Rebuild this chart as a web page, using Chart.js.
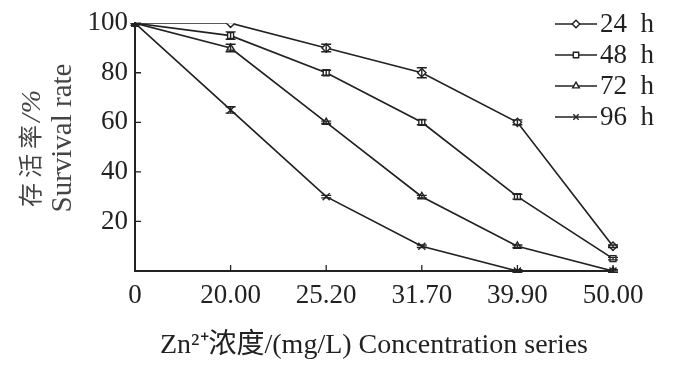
<!DOCTYPE html>
<html>
<head>
<meta charset="utf-8">
<script src="https://cdn.jsdelivr.net/npm/chart.js@4.4.1/dist/chart.umd.min.js"></script>
<style>
  html, body { margin:0; padding:0; background:#fff; }
  #wrap { width:700px; height:372px; position:relative; }
</style>
</head>
<body>
<div id="wrap"><canvas id="c" width="700" height="372"></canvas></div>
<script>
// data
const concentrations = ['0', '20.00', '25.20', '31.70', '39.90', '50.00'];
const seriesNames = ['24 h', '48 h', '72 h', '96 h'];
const survival24 = [100, 100, 90, 80, 60, 10];
const survival48 = [100, 95, 80, 60, 30, 5];
const survival72 = [100, 90, 60, 30, 10, 0];
const survival96 = [100, 65, 30, 10, 0, 0];
const err24 = [0, 0, 1.5, 2, 1, 0.5];
const err48 = [0, 1.5, 1, 1, 1, 0.5];
const err72 = [0, 1.5, 0.5, 0.5, 0.5, 0.5];
const err96 = [0, 1.3, 0.5, 0.5, 0.5, 0.5];
const yTicks = [20, 40, 60, 80, 100];
const yTitle = ['存活率', '/%', 'Survival rate'];
const xTitle = 'Zn\u00b2\u207a浓度/(mg/L) Concentration series';

const SERIF = "'Liberation Serif', 'Noto Sans CJK SC', serif";
const INK = '#222';
const markers = ['rectRot', 'rect', 'triangle', 'crossRot'];

function mkSet(label, data, errs, style) {
  return {
    label, data, errs,
    borderColor: INK, borderWidth: 1.7,
    pointStyle: style, pointRadius: style === 'crossRot' ? 5 : 4.2,
    pointBackgroundColor: data.map((v, i) => i === 0 ? INK : '#fff'),
    pointBorderColor: INK, pointBorderWidth: 1.4,
    tension: 0, fill: false
  };
}

// error bars, inward ticks, y title and the legend inside the plot
const extras = {
  id: 'extras',
  afterDatasetsDraw(chart) {
    const { ctx, scales: { x, y } } = chart;
    ctx.save();
    ctx.strokeStyle = INK; ctx.lineWidth = 1.4;
    chart.data.datasets.forEach(ds => {
      ds.data.forEach((v, i) => {
        const e = ds.errs[i]; if (!e) return;
        const px = x.getPixelForValue(i);
        const top = y.getPixelForValue(v + e), bot = y.getPixelForValue(v - e);
        ctx.beginPath();
        ctx.moveTo(px, top); ctx.lineTo(px, bot);
        ctx.moveTo(px - 5, top); ctx.lineTo(px + 5, top);
        ctx.moveTo(px - 5, bot); ctx.lineTo(px + 5, bot);
        ctx.stroke();
      });
    });
    // inward tick marks
    ctx.lineWidth = 1.3;
    ctx.beginPath();
    concentrations.forEach((c, i) => {
      if (i === 0) return;
      const px = x.getPixelForValue(i);
      ctx.moveTo(px, x.top); ctx.lineTo(px, x.top - 6);
    });
    yTicks.forEach(t => {
      const py = y.getPixelForValue(t);
      ctx.moveTo(y.right, py); ctx.lineTo(y.right + 6, py);
    });
    ctx.stroke();
    // y axis title, two rotated lines
    ctx.save();
    ctx.translate(0, 207);
    ctx.rotate(-Math.PI / 2);
    ctx.fillStyle = '#444';
    ctx.textAlign = 'left'; ctx.textBaseline = 'middle';
    ctx.font = '24px ' + SERIF;
    ctx.letterSpacing = '5px';
    ctx.fillText(yTitle[0], 0, 33);
    const w = ctx.measureText(yTitle[0]).width;
    ctx.letterSpacing = '1px';
    ctx.font = 'italic 28px ' + SERIF;
    ctx.fillText(yTitle[1], w - 2, 33);
    ctx.letterSpacing = '0px';
    ctx.font = '29px ' + SERIF;
    ctx.textAlign = 'center';
    ctx.fillText(yTitle[2], 69, 63);
    ctx.restore();
    // legend
    chart.data.datasets.forEach((ds, i) => {
      const ly = 24 + i * 31;
      ctx.strokeStyle = INK; ctx.lineWidth = 1.7;
      ctx.beginPath(); ctx.moveTo(555, ly); ctx.lineTo(597, ly); ctx.stroke();
      ctx.fillStyle = '#fff'; ctx.lineWidth = 1.4;
      Chart.helpers.drawPoint(ctx, { pointStyle: ds.pointStyle, rotation: 0, radius: 3.8, borderWidth: 1.4 }, 576, ly);
      ctx.fillStyle = INK;
      ctx.font = '27px ' + SERIF;
      ctx.textBaseline = 'middle'; ctx.textAlign = 'left';
      ctx.fillText(ds.label.replace(' ', '\u2002'), 600, ly + 1);
    });
    ctx.restore();
  }
};

new Chart(document.getElementById('c'), {
  type: 'line',
  data: {
    labels: concentrations,
    datasets: [
      mkSet(seriesNames[0], survival24, err24, markers[0]),
      mkSet(seriesNames[1], survival48, err48, markers[1]),
      mkSet(seriesNames[2], survival72, err72, markers[2]),
      mkSet(seriesNames[3], survival96, err96, markers[3])
    ]
  },
  options: {
    responsive: false, animation: false,
    layout: { padding: { left: 10, top: 10, right: 87, bottom: 6 } },
    plugins: { legend: { display: false }, tooltip: { enabled: false } },
    scales: {
      x: {
        offset: false,
        grid: { display: false, drawTicks: false },
        border: { color: INK, width: 2 },
        ticks: { color: INK, font: { family: SERIF, size: 27 }, padding: 9, maxRotation: 0, autoSkip: false },
        title: { display: true, text: xTitle, color: INK,
                 font: { family: SERIF, size: 28 }, padding: { top: 10 } },
        afterFit(s) { s.height = 372 - 271 - 6; }
      },
      y: {
        min: 0, max: 100,
        grid: { display: false, drawTicks: false },
        border: { color: INK, width: 2 },
        ticks: { stepSize: 20, color: INK, font: { family: SERIF, size: 27 }, padding: 7,
                 callback: v => v === 0 ? '' : v },
        afterFit(s) { s.width = 125; }
      }
    }
  },
  plugins: [extras]
});
</script>
</body>
</html>
